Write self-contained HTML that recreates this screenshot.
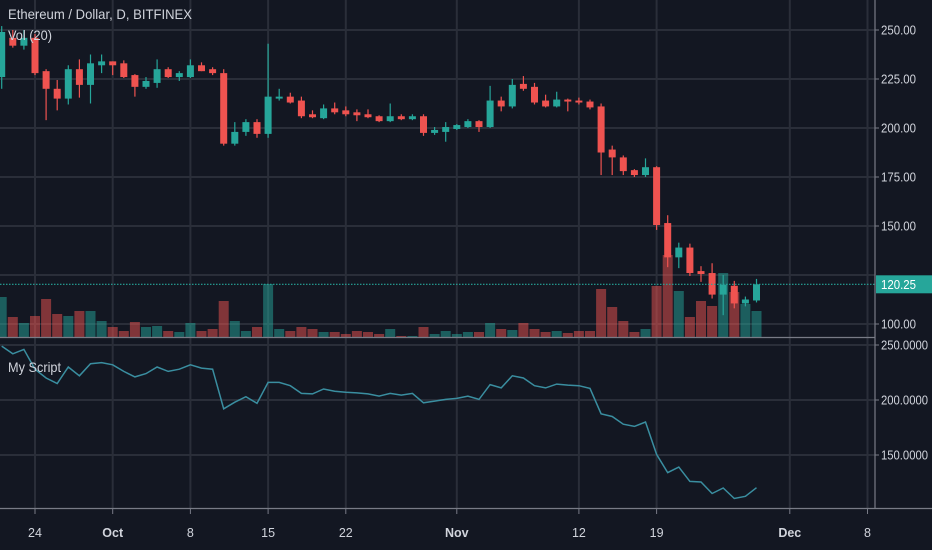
<!DOCTYPE html>
<html><head><meta charset="utf-8">
<style>
html,body{margin:0;padding:0;background:#131722;}
svg{display:block;font-family:"Liberation Sans",sans-serif;}
</style></head>
<body>
<svg id="chart" width="932" height="550" viewBox="0 0 932 550" xmlns="http://www.w3.org/2000/svg">
<rect x="0" y="0" width="932" height="550" fill="#131722"/>
<g id="grid"></g>
<g id="vol"></g>
<g id="candles"></g>
<g id="script"></g>
<g id="axes"></g>
<text x="8" y="19" fill="#d1d4dc" font-size="14" textLength="184" lengthAdjust="spacingAndGlyphs">Ethereum / Dollar, D, BITFINEX</text>
<text x="8" y="40" fill="#d1d4dc" font-size="14" textLength="44" lengthAdjust="spacingAndGlyphs">Vol (20)</text>
<text x="8" y="372" fill="#d1d4dc" font-size="14" textLength="53" lengthAdjust="spacingAndGlyphs">My Script</text>
</svg>
<script>
const startDay = 0; // Sep 21
const opens  = [226,246,242,246,229,220,215,230,222,232,234,233,227,221,223,230,226,226,232,230,228,192,198,203,197,215,216,214,207,205,210,209,208,207,206,203.5,206,204.5,206,197.5,198,199.5,200.5,203.5,200.5,214,211,222.5,221,214,211,214.5,214,213.5,211,189,185,178.5,176,180,151.5,134,139,127,126,115,119.5,110.5,112];
const highs  = [252,250,250,248,230,224.5,232,235,237.5,237.5,234,234.5,227.5,226,235,231,229,235,233.5,231,230,203,204.5,204.5,243,220,218,216,209,212,213,211,209.5,209.5,206.5,212.5,207,207,207,200.5,203,202,204.5,204,221.5,216,225,226.5,223,217,218.5,215,215.5,214.5,212.5,191,186,179,184.5,180.5,155.5,141.5,141,129.5,131,125,122,114,123];
const lows   = [220,241,240,227,204,209,212,215.5,212.5,228,227,225.5,216,220,220.5,225.5,224,225.5,229,227,191,191,196,195,195,214,212.5,205,205,204.5,207,206,203.5,205,203,203,204,204,196,196.5,193,199,200,198,200,208.5,210,219,212,210.5,210.5,208.5,212,209.5,176,176,176,175,175,148,129,128.5,124.5,121.5,113,104.5,108,109,111];
const closes = [249,242,246,228,220,215,230,222,233,234,232,226,221,224,230,226,228,232,229,228,192,198,203,197,216,216,213,206,205.5,210,208,207,206.5,205.5,203.5,206,204.5,206,197.5,199,200.5,201.5,203.5,200.5,214,211,222,220,213,211,214.5,213.5,213,210.5,187.5,185,178,176,180,150.5,134,139,126,125.5,115,120,110.5,112.5,120.25];
const volumes= [40,20,14,21,38,23,21,26,26,16,10,6,15,10,11,6,5,14,6,8,36,16,6,10,53,8,6,10,8,5,5,3,6,5,3,8,1,1,10,3,6,3,5,5,14,8,7,14,8,5,6,4,6,6,48,30,16,5,8,51,82,46,20,36,31,64,45,33,26];
const priceTicks = [250,225,200,175,150,125,100];
const scriptTicks = [250,200,150];
const timeLabels = ["24","Oct","8","15","22","Nov","12","19","Dec","8"];
const timeLabelDays = [3,10,17,24,31,41,52,59,71,78];
const lastPrice = 120.25;

const NS="http://www.w3.org/2000/svg";
const xOf = d => 35 + (d-3)*11.1;
const yP = p => 30 + (250-p)*1.96;
const yS = p => 345 + (250-p)*1.1;
const yV = v => 337 - v;
function mk(tag, attrs, parent){const e=document.createElementNS(NS,tag);for(const k in attrs)e.setAttribute(k,attrs[k]);parent.appendChild(e);return e;}
const grid=document.getElementById('grid'), vol=document.getElementById('vol'), cg=document.getElementById('candles'), sg=document.getElementById('script'), ax=document.getElementById('axes');
const GC="#2a2e39";
priceTicks.forEach(p=>{const l=mk('line',{x1:0,x2:875,y1:yP(p),y2:yP(p),stroke:GC,'stroke-width':2},grid);

});
scriptTicks.forEach(p=>{const l=mk('line',{x1:0,x2:875,y1:yS(p),y2:yS(p),stroke:GC,'stroke-width':2},grid);

});
timeLabelDays.forEach(d=>{const l=mk('line',{x1:xOf(d),x2:xOf(d),y1:0,y2:508,stroke:GC,'stroke-width':2},grid);

});
closes.forEach((c,i)=>{
  const x=xOf(startDay+i), up=c>=opens[i];
  const b=mk('rect',{x:x-5,y:yV(volumes[i]),width:10,height:volumes[i],fill:up?'#26a69a':'#ef5350','fill-opacity':0.5},vol);
  
  
  const col=up?'#26a69a':'#ef5350';
  const w=mk('line',{x1:x,x2:x,y1:yP(highs[i]),y2:yP(lows[i]),stroke:col,'stroke-width':1.2},cg);
  
  
  const top=yP(Math.max(c,opens[i])), bot=yP(Math.min(c,opens[i]));
  const r=mk('rect',{x:x-3.5,y:top,width:7,height:Math.max(1.5,bot-top),fill:col},cg);
  
  
});
const pts=closes.map((c,i)=>xOf(startDay+i).toFixed(1)+','+yS(c).toFixed(1)).join(' ');
const pl=mk('polyline',{points:pts,fill:'none',stroke:'#3a8ea0','stroke-width':1.5},sg);


const dl=mk('line',{x1:0,x2:875,y1:yP(lastPrice),y2:yP(lastPrice),stroke:'#26a69a','stroke-width':1.2,'stroke-dasharray':'1.5 1.5'},ax);


[[875,0,875,509],[0,337.5,875,337.5],[0,508.5,932,508.5]].forEach(a=>{const l=mk('line',{x1:a[0],y1:a[1],x2:a[2],y2:a[3],stroke:'#787b86','stroke-width':1.2},ax);

});
priceTicks.forEach(p=>{
if(Math.abs(yP(p)-yP(lastPrice))<14) return;
mk('line',{x1:875,x2:879,y1:yP(p),y2:yP(p),stroke:'#787b86'},ax);
const t=mk('text',{x:881,y:yP(p)+4.5,fill:'#d1d4dc','font-size':13,textLength:35,lengthAdjust:'spacingAndGlyphs'},ax);t.textContent=p.toFixed(2);

});
scriptTicks.forEach(p=>{
mk('line',{x1:875,x2:879,y1:yS(p),y2:yS(p),stroke:'#787b86'},ax);
const t=mk('text',{x:881,y:yS(p)+4.5,fill:'#d1d4dc','font-size':13,textLength:47,lengthAdjust:'spacingAndGlyphs'},ax);t.textContent=p.toFixed(4);

});
timeLabels.forEach((s,i)=>{const x=xOf(timeLabelDays[i]);
mk('line',{x1:x,x2:x,y1:509,y2:514,stroke:'#787b86'},ax);
const t=mk('text',{x:x,y:537,fill:'#d1d4dc','font-size':12.5,'text-anchor':'middle','font-weight':(isNaN(+s)?'bold':'normal')},ax);t.textContent=s;

});
const lb=mk('rect',{x:876,y:yP(lastPrice)-9,width:56,height:18,fill:'#26a69a'},ax);


const lt=mk('text',{x:881,y:yP(lastPrice)+4.5,fill:'#ffffff','font-size':13,textLength:35,lengthAdjust:'spacingAndGlyphs'},ax);lt.textContent=lastPrice.toFixed(2);


</script>
</body></html>
